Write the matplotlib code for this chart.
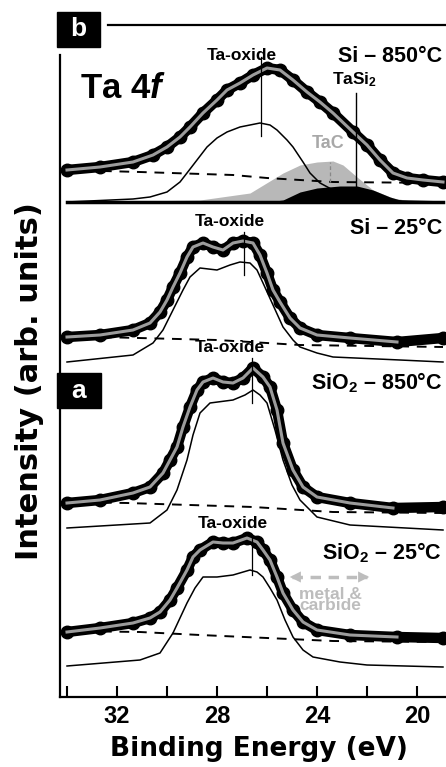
import matplotlib
matplotlib.use("Agg")
import matplotlib.pyplot as plt
from matplotlib.patches import Rectangle

plt.rcParams['font.family'] = ['Liberation Sans', 'DejaVu Sans']
plt.rcParams['font.weight'] = 'bold'
plt.rcParams['mathtext.fontset'] = 'custom'
plt.rcParams['mathtext.rm'] = 'Liberation Sans:bold'
plt.rcParams['mathtext.bf'] = 'Liberation Sans:bold'
plt.rcParams['mathtext.it'] = 'Liberation Sans:italic:bold'

# ---- Si - 850C (top spectrum) ----
si850_E = [34.0, 32.68, 31.36, 30.56, 30.0, 29.48, 29.08, 28.56, 28.0, 27.6, 27.08, 26.56, 26.0,
           25.48, 24.96, 24.4, 23.88, 23.36, 22.56, 22.0, 21.48, 20.96, 20.4, 19.76, 18.96]
si850_I = [527, 530, 535, 542, 550, 560, 570, 584, 597, 607, 614, 622, 629,
           627, 617, 605, 595, 584, 565, 552, 537, 524, 519, 517, 515]
si850_ox_E = [34.0, 31.36, 30.68, 30.0, 29.48, 29.2, 28.8, 28.4, 28.0, 27.6, 27.08, 26.28, 25.88,
              25.6, 25.2, 24.96, 24.56, 24.28, 23.88, 23.36, 22.88, 22.28, 18.96]
si850_ox_I = [495, 498, 500, 505, 515, 524, 537, 550, 559, 565, 570, 574, 572,
              567, 557, 550, 535, 524, 514, 507, 502, 497, 495]
si850_tac_E = [34.0, 28.68, 26.68, 25.36, 24.68, 24.0, 23.36, 22.96, 22.4, 21.76, 20.96, 20.0, 18.96]
si850_tac_I = [495, 497, 504, 524, 532, 535, 536, 532, 520, 507, 499, 495, 495]
si850_tasi_E = [26.0, 25.36, 24.68, 24.0, 23.08, 22.4, 21.76, 21.08, 20.4]
si850_tasi_I = [495, 497, 505, 509, 511, 511, 507, 500, 495]
si850_bg_E = [34.0, 31.08, 27.36, 26.0, 24.68, 23.36, 18.96]
si850_bg_I = [527, 525, 522, 519, 517, 515, 514]
si850_base = 495

# ---- Si - 25C ----
si25_E = [34.0, 32.68, 31.36, 30.68, 30.28, 30.0, 29.76, 29.48, 29.2, 28.96, 28.56, 28.16, 27.76,
          27.36, 26.96, 26.56, 26.28, 26.0, 25.76, 25.48, 25.08, 24.68, 24.0, 22.68, 20.8, 18.96]
si25_I = [360, 362, 367, 374, 385, 397, 410, 424, 440, 450, 454, 450, 447,
          454, 456, 454, 442, 424, 407, 395, 379, 369, 362, 359, 355, 359]
si25_ox_E = [34.0, 31.36, 30.56, 30.16, 29.76, 29.36, 29.08, 28.68, 28.0, 27.48, 27.08, 26.68, 26.4,
             26.16, 25.76, 25.36, 24.96, 24.68, 24.0, 23.36, 20.68, 18.96]
si25_ox_I = [335, 342, 354, 367, 387, 407, 420, 429, 427, 432, 435, 434, 427,
             414, 392, 370, 357, 350, 344, 340, 337, 335]
si25_bg_E = [34.0, 32.68, 28.0, 24.68, 18.96]
si25_bg_I = [360, 360, 357, 352, 350]

# ---- SiO2 - 850C ----
ox850_E = [34.0, 32.68, 31.36, 30.68, 30.16, 29.88, 29.6, 29.36, 29.08, 28.8, 28.56, 28.16, 27.76,
           27.36, 26.96, 26.56, 26.16, 25.88, 25.6, 25.36, 24.96, 24.56, 24.0, 22.68, 20.96, 18.96]
ox850_I = [194, 197, 204, 210, 224, 237, 250, 270, 290, 307, 315, 319, 315,
           314, 319, 329, 320, 310, 287, 254, 227, 210, 200, 194, 189, 190]
ox850_ox_E = [34.0, 30.68, 30.0, 29.6, 29.2, 28.96, 28.68, 28.28, 27.36, 26.88, 26.56, 26.28, 26.0,
              25.68, 25.36, 25.0, 24.68, 24.0, 22.68, 18.96]
ox850_ox_I = [169, 174, 187, 207, 237, 262, 284, 294, 297, 302, 307, 302, 294,
              267, 237, 212, 197, 180, 172, 167]
ox850_bg_E = [34.0, 31.6, 26.56, 23.36, 18.96]
ox850_bg_I = [195, 194, 190, 185, 184]

# ---- SiO2 - 25C ----
ox25_E = [34.0, 32.68, 31.36, 30.68, 30.28, 29.88, 29.6, 29.2, 28.96, 28.68, 28.16, 27.76, 27.36,
          26.8, 26.4, 26.16, 25.88, 25.6, 25.36, 24.96, 24.56, 24.0, 22.68, 20.8, 18.96]
ox25_I = [65, 69, 74, 79, 85, 97, 109, 127, 140, 147, 155, 154, 154,
          159, 155, 147, 137, 120, 104, 87, 75, 67, 62, 60, 59]
ox25_ox_E = [34.0, 31.08, 30.28, 29.76, 29.48, 29.2, 28.88, 28.56, 28.0, 27.36, 26.68, 26.4, 26.16,
             25.88, 25.6, 25.28, 24.96, 24.56, 24.16, 23.08, 22.0, 18.96]
ox25_ox_I = [31, 37, 44, 64, 79, 94, 109, 120, 120, 122, 127, 125, 120,
             109, 97, 77, 60, 47, 40, 35, 32, 30]
ox25_bg_E = [34.0, 31.08, 28.68, 26.0, 23.36, 18.96]
ox25_bg_I = [66, 65, 62, 59, 56, 55]

# peak markers: (energy, y bottom, y top)
oxide_marks = [(26.24, 561, 640), (26.92, 422, 465), (26.6, 294, 339), (26.6, 122, 159)]
tasi_mark = (22.44, 510, 604)
tac_mark = (23.48, 515, 535)

gray_fit = '#9c9c9c'
gray_tac = '#b8b8b8'

fig = plt.figure(figsize=(4.46, 7.67), dpi=100)
ax = fig.add_axes([60/446, 70/767, 386/446, 672/767])

spectra = [(si850_E, si850_I, 18.96), (si25_E, si25_I, 20.8),
           (ox850_E, ox850_I, 20.8), (ox25_E, ox25_I, 20.8)]

# component fills (top panel)
ax.fill_between(si850_tac_E, si850_base, si850_tac_I, color=gray_tac, lw=0, zorder=1)
ax.fill_between(si850_tasi_E, si850_base, si850_tasi_I, color='black', lw=0, zorder=1.5)
ax.plot([34.0, 18.96], [si850_base, si850_base], color='black', lw=2.5, zorder=2)

for bgE, bgI in [(si850_bg_E, si850_bg_I), (si25_bg_E, si25_bg_I),
                 (ox850_bg_E, ox850_bg_I), (ox25_bg_E, ox25_bg_I)]:
    ax.plot(bgE, bgI, color='black', lw=1.4, ls=(0, (5, 4)), zorder=2)

for oE, oI in [(si850_ox_E, si850_ox_I), (si25_ox_E, si25_ox_I),
               (ox850_ox_E, ox850_ox_I), (ox25_ox_E, ox25_ox_I)]:
    ax.plot(oE, oI, color='black', lw=1.1, zorder=3)

for E, I, emin in spectra:
    ax.plot(E, I, color='black', lw=7.5, marker='o', ms=9, solid_capstyle='round', zorder=4)
    fE = [e for e in E if e >= emin]
    fI = [i for e, i in zip(E, I) if e >= emin]
    ax.plot(fE, fI, color=gray_fit, lw=2.2, zorder=5)

for e, y0, y1 in oxide_marks:
    ax.plot([e, e], [y0, y1], color='black', lw=0.9, zorder=6)
ax.plot([tasi_mark[0]] * 2, tasi_mark[1:], color='black', lw=1.0, zorder=6)
ax.plot([tac_mark[0]] * 2, tac_mark[1:], color='#888888', lw=0.9, ls=(0, (3, 2)), zorder=6)

# labels
lab = dict(fontsize=12.5, fontweight='bold', ha='center', va='center')
ax.text(27.0, 642, 'Ta-oxide', **lab)
ax.text(27.48, 476, 'Ta-oxide', **lab)
ax.text(27.48, 349, 'Ta-oxide', **lab, zorder=7)
ax.text(27.36, 174, 'Ta-oxide', **lab)
ax.text(22.48, 617, 'TaSi$_{2}$', **lab)
ax.text(23.56, 554, 'TaC', fontsize=13, fontweight='bold', ha='center', va='center', color='#a8a8a8')

cond = dict(fontsize=15.5, fontweight='bold', ha='right', va='center')
ax.text(19.0, 641, 'Si – 850°C', **cond)
ax.text(19.0, 469, 'Si – 25°C', **cond)
ax.text(19.0, 314, 'SiO$_{2}$ – 850°C', **cond)
ax.text(19.0, 144, 'SiO$_{2}$ – 25°C', **cond)

# metal & carbide arrow
arrow_gray = '#bdbdbd'
ax.plot([25.0, 22.0], [120, 120], color=arrow_gray, lw=2.5, ls=(0, (3, 2.2)), zorder=3)
ax.annotate('', xy=(25.2, 120), xytext=(24.7, 120),
            arrowprops=dict(arrowstyle='-|>', color=arrow_gray, lw=0, mutation_scale=20))
ax.annotate('', xy=(21.8, 120), xytext=(22.3, 120),
            arrowprops=dict(arrowstyle='-|>', color=arrow_gray, lw=0, mutation_scale=20))
ax.text(23.45, 97, 'metal &\ncarbide', fontsize=12.5, fontweight='bold', color=arrow_gray,
        ha='center', va='center', linespacing=0.72)

ax.set_xlim(34.28, 18.84)
ax.set_ylim(0, 672)
ax.set_yticks([])
ax.set_xticks([32, 28, 24, 20])
ax.set_xticks([34, 30, 26, 22], minor=True)
ax.tick_params(axis='x', which='both', direction='in', length=8, width=1.5, pad=6)
ax.tick_params(axis='x', which='major', labelsize=17)
for t in ax.get_xticklabels():
    t.set_fontweight('bold')
ax.spines['top'].set_visible(False)
ax.spines['right'].set_visible(False)
ax.spines['left'].set_linewidth(1.6)
ax.spines['bottom'].set_linewidth(1.6)
ax.spines['left'].set_bounds(0, 642)
ax.axhline(672, xmin=(108-60)/386, xmax=1, color='black', lw=1.6, clip_on=False)

ax.text(0.052, 0.905, 'Ta 4$\\it{f}$', transform=ax.transAxes, fontsize=25,
        fontweight='bold', ha='left', va='center')

# panel boxes
for (x0, y0, w, h, s) in [(57, 12, 43, 35, 'b'), (57, 373, 44, 35, 'a')]:
    fig.add_artist(Rectangle((x0/446, 1 - (y0 + h)/767), w/446, h/767,
                             transform=fig.transFigure, color='black', zorder=5))
    fig.text((x0 + w/2)/446, 1 - (y0 + h/2)/767, s, color='white', fontsize=19,
             fontweight='bold', ha='center', va='center', zorder=6)

fig.text(30/446, 1 - 381/767, 'Intensity (arb. units)', rotation=90, fontsize=22,
         fontweight='bold', ha='center', va='center', family='DejaVu Sans')
fig.text(259/446, 1 - 749/767, 'Binding Energy (eV)', fontsize=19,
         fontweight='bold', ha='center', va='center', family='DejaVu Sans')

fig.savefig('out.png', dpi=100)
